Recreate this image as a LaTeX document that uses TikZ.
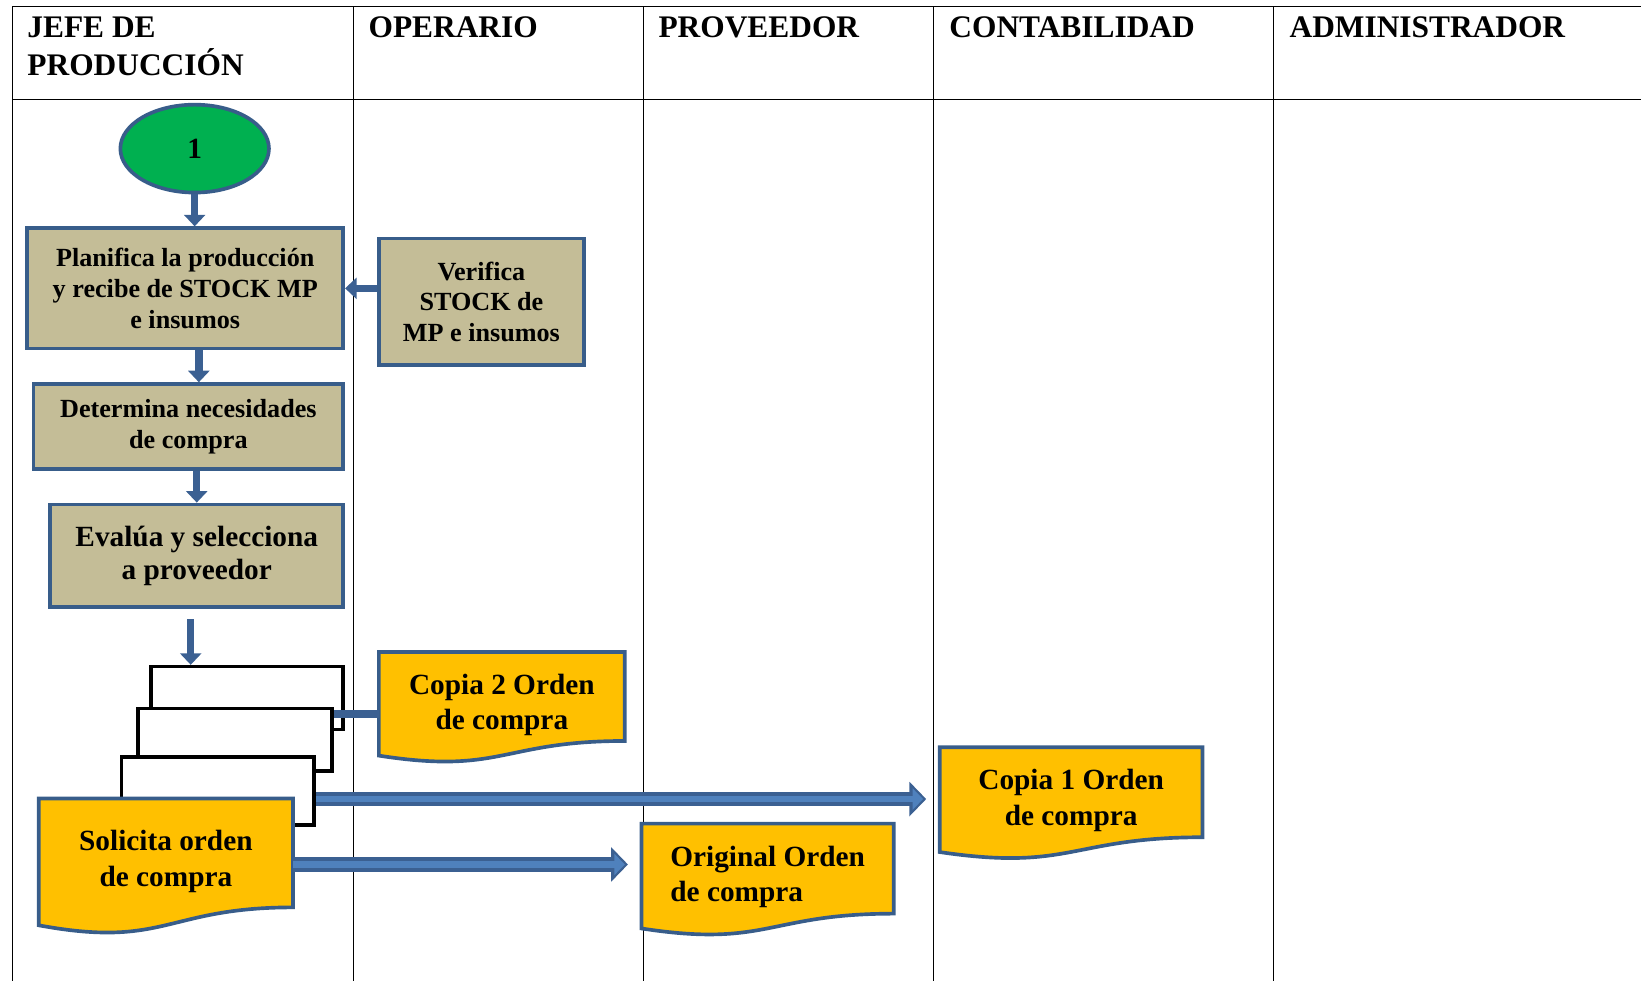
\documentclass[tikz,border=0pt]{standalone}
\usepackage{fontspec}
\setmainfont{Liberation Serif}
\usetikzlibrary{shapes.geometric,arrows.meta,backgrounds,calc}
\definecolor{flowborder}{RGB}{56,93,138}
\definecolor{flowarrow}{RGB}{59,96,146}
\definecolor{flowlight}{RGB}{79,129,189}
\definecolor{flowtan}{RGB}{196,189,151}
\definecolor{flowyellow}{RGB}{255,192,0}
\definecolor{flowgreen}{RGB}{0,176,80}

% document shape (wavy bottom) round the text area of a node
\newcommand{\docpath}[1]{%
  \filldraw[draw=flowborder, fill=flowyellow, line width=3.5pt]
    ([yshift=16pt]#1.north west) -- ([yshift=16pt]#1.north east) -- (#1.south east)
    .. controls (#1.south) and ($([yshift=16pt]#1.north)!1.381!(#1.south)$) ..
    ($([yshift=16pt]#1.north west)!1.1646!(#1.south west)$) -- cycle;}

\begin{document}
\begin{tikzpicture}[x=1pt, y=-1pt,
    lane/.style={anchor=north west, inner sep=0pt, align=left, font=\bfseries\fontsize{30}{36}\selectfont},
    proc/.style={draw=flowborder, line width=3.5pt, fill=flowtan, align=center, inner sep=0pt, font=\bfseries\fontsize{25}{29.5}\selectfont},
    docu/.style={inner sep=0pt, outer sep=0pt, align=center, font=\bfseries\fontsize{28}{34}\selectfont},
    stack/.style={draw=black, line width=3.5pt, fill=white, inner sep=0pt, minimum width=184pt, minimum height=60pt},
    flow/.style={draw=flowarrow, line width=7pt, -{Triangle[width=20pt,length=11pt]}},
    bigflow/.style={draw=flowlight, line width=6pt, shorten >=3pt, -{Triangle[width=20pt,length=10pt]},
      preaction={draw=flowarrow, line width=14pt, shorten >=0pt, -{Triangle[width=32pt,length=16pt]}}}]

  \useasboundingbox (0,0) rectangle (1568,937);

  % lane titles
  \node[lane] (jefe) at (26,16) {JEFE DE\\PRODUCCIÓN};
  \node[lane] (oper) at (352,16) {OPERARIO};
  \node[lane] (prov) at (629,16) {PROVEEDOR};
  \node[lane] (cont) at (907,16) {CONTABILIDAD};
  \node[lane] (admi) at (1232,16) {ADMINISTRADOR};

  % steps
  \node[draw=flowborder, line width=3.5pt, fill=flowgreen, ellipse, minimum width=142pt, minimum height=84pt, inner sep=0pt,
        font=\bfseries\fontsize{28}{34}\selectfont] (start) at (186,142) {1};
  \node[proc, minimum width=302pt, minimum height=115pt] (plan) at (177,275.5) {Planifica la producción\\y recibe de STOCK MP\\e insumos};
  \node[proc, minimum width=196pt, minimum height=121pt] (verif) at (460,288.5) {Verifica\\STOCK de\\MP e insumos};
  \node[proc, minimum width=296pt, minimum height=81pt] (deter) at (180,407.5) {Determina necesidades\\de compra};
  \node[proc, minimum width=280pt, minimum height=98pt, font=\bfseries\fontsize{28}{32}\selectfont] (evalua) at (188,531) {Evalúa y selecciona\\a proveedor};

  % documents (text area only, the shape is drawn behind)
  \node[docu, minimum width=243pt, minimum height=88pt] (sol) at (158.5,823) {Solicita orden\\de compra};
  \node[docu, minimum width=235pt, minimum height=69pt] (cop2) at (479.5,673.5) {Copia 2 Orden\\de compra};
  \node[docu, minimum width=251pt, minimum height=70pt] (cop1) at (1023.5,765) {Copia 1 Orden\\de compra};
  \node[docu, minimum width=241pt, minimum height=70pt, align=left] (orig) at (733.5,838) {Original Orden\\de compra};

  \begin{pgfonlayer}{background}
    % table
    \draw[line width=1.4pt] (12,937) -- (12,6) -- (1568,6);
    \draw[line width=1.4pt] (12,95) -- (1568,95);
    \foreach \x in {338,615,892,1217}
      \draw[line width=1.4pt] (\x,6) -- (\x,937);
    % stacked copies
    \node[stack] (rA) at (236,667) {};
    \node[stack, minimum width=185pt] (rB) at (224.5,707) {};
    \node[stack, minimum height=65pt] (rC) at (208,755.5) {};
    \docpath{sol}
    \docpath{cop2}
    \docpath{cop1}
    \docpath{orig}
  \end{pgfonlayer}

  % connectors
  \draw[flow] (start.south) -- (start.south |- plan.north);
  \draw[flow] (plan.east -| verif.west) -- (plan.east);
  \draw[flow] ([xshift=13pt]plan.south) -- ([xshift=13pt]plan.south |- deter.north);
  \draw[flow] (evalua.north |- deter.south) -- (evalua.north);
  \draw[flow] ([xshift=40pt,yshift=-10pt]rA.north west |- evalua.south) -- ([xshift=40pt]rA.north west);
  \draw[draw=flowarrow, line width=8pt] ([yshift=-8.5pt]cop2.west) -- ([yshift=-8.5pt]cop2.west -| rB.east);
  \draw[bigflow] ([yshift=-8pt]rC.east) -- ([xshift=-13pt,yshift=-8pt]rC.east -| cop1.west);
  \draw[bigflow] ([yshift=-3pt]sol.east) -- ([xshift=-13pt,yshift=-3pt]sol.east -| orig.west);
\end{tikzpicture}
\end{document}
